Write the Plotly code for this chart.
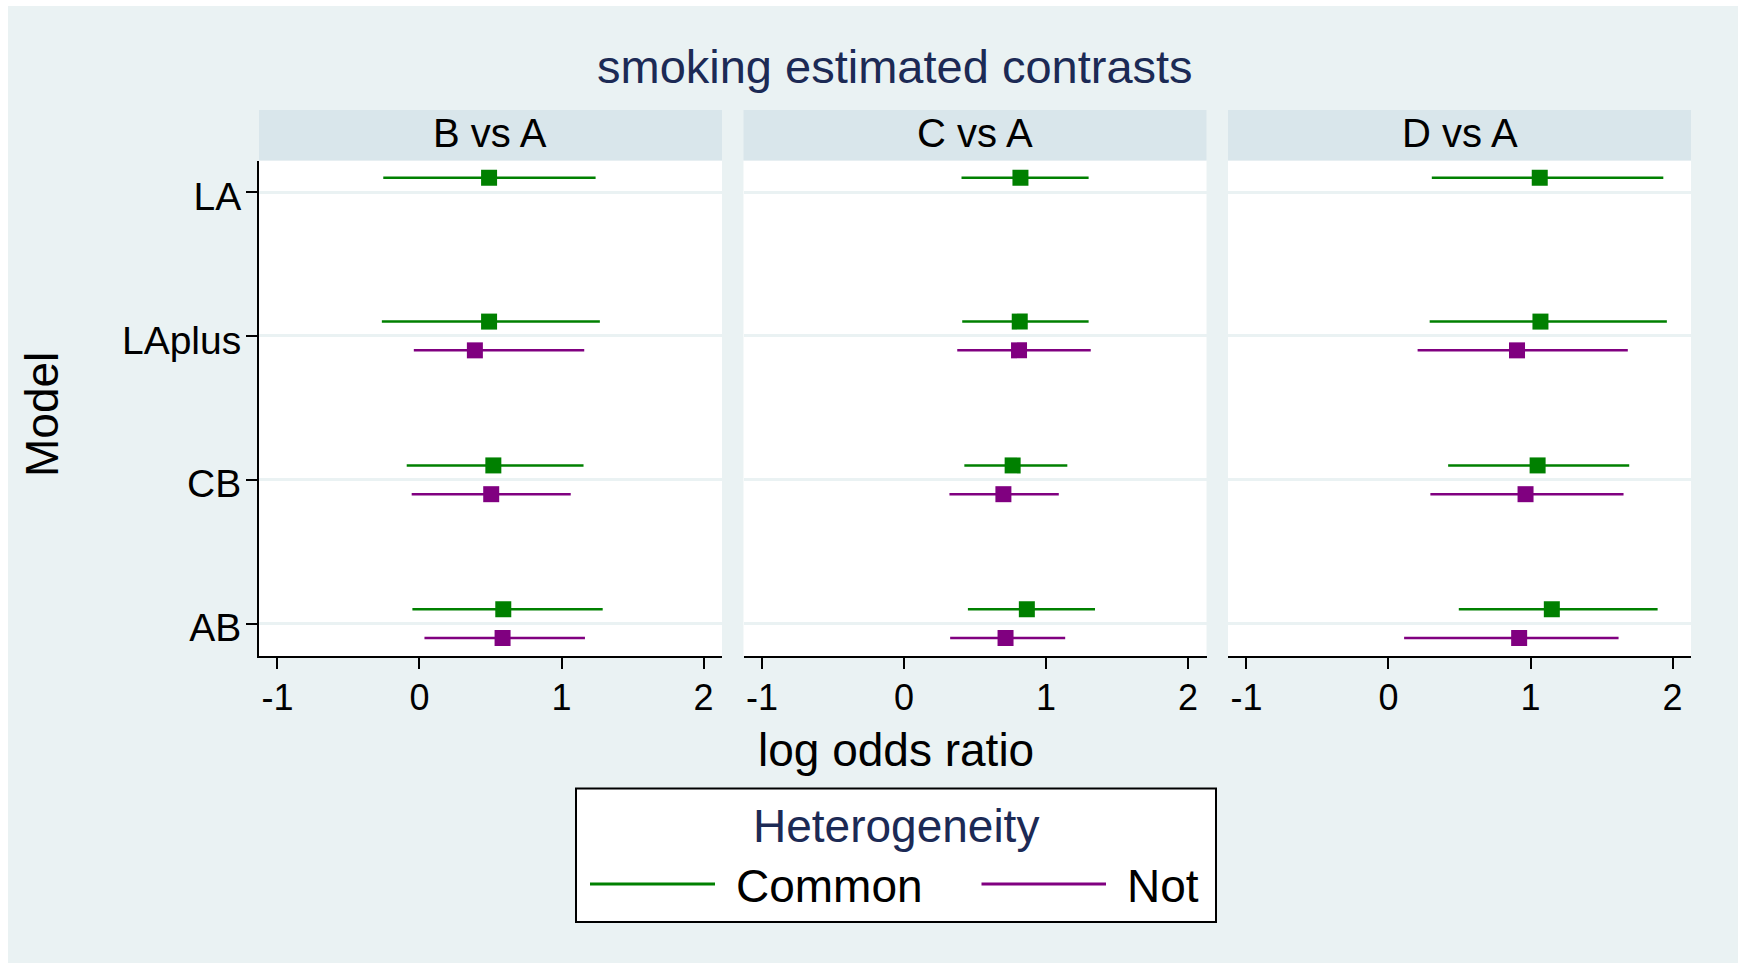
import plotly.graph_objects as go

# ---------------- data ----------------
models = ["LA", "LAplus", "CB", "AB"]
contrasts = ["B vs A", "C vs A", "D vs A"]
x_ticks = [-1, 0, 1, 2]

# Common heterogeneity: estimate, lower, upper (per contrast, per model)
common_est = {"B vs A": [0.49, 0.49, 0.52, 0.59],
              "C vs A": [0.82, 0.815, 0.765, 0.865],
              "D vs A": [1.065, 1.07, 1.05, 1.15]}
common_lo = {"B vs A": [-0.255, -0.265, -0.09, -0.05],
             "C vs A": [0.405, 0.41, 0.425, 0.45],
             "D vs A": [0.305, 0.29, 0.42, 0.495]}
common_hi = {"B vs A": [1.24, 1.27, 1.155, 1.29],
             "C vs A": [1.30, 1.30, 1.15, 1.345],
             "D vs A": [1.935, 1.96, 1.695, 1.895]}

# Not-common heterogeneity (no LA model)
not_est = {"B vs A": [None, 0.39, 0.505, 0.585],
           "C vs A": [None, 0.81, 0.70, 0.715],
           "D vs A": [None, 0.905, 0.965, 0.92]}
not_lo = {"B vs A": [None, -0.04, -0.055, 0.035],
          "C vs A": [None, 0.375, 0.32, 0.325],
          "D vs A": [None, 0.205, 0.295, 0.11]}
not_hi = {"B vs A": [None, 1.16, 1.065, 1.165],
          "C vs A": [None, 1.315, 1.09, 1.135],
          "D vs A": [None, 1.685, 1.655, 1.62]}

series_names = ["Common", "Not"]
series_colors = {"Common": "#008000", "Not": "#800080"}

# ---------------- layout geometry ----------------
W, H = 1741, 963
BG = "#EAF2F3"
STRIP = "#D9E6EB"
NAVY = "#1C2A55"
FONT = "Liberation Sans, Arial, Helvetica, sans-serif"

panel_px = [(259, 722), (743.5, 1206.5), (1228, 1691)]
plot_top, plot_bot = 160.5, 656
head_top = 110

def px_x(v):
    return v / W

def px_y(v):
    return 1 - v / H

ypos = {m: len(models) - i for i, m in enumerate(models)}  # LA=4 ... AB=1
offset = {"Common": 0.1, "Not": -0.1}

fig = go.Figure()

for k, c in enumerate(contrasts):
    xa = "x" if k == 0 else f"x{k+1}"
    ya = "y" if k == 0 else f"y{k+1}"
    for s in series_names:
        est = common_est[c] if s == "Common" else not_est[c]
        lo = common_lo[c] if s == "Common" else not_lo[c]
        hi = common_hi[c] if s == "Common" else not_hi[c]
        xs, ys, ep, em = [], [], [], []
        for i, m in enumerate(models):
            if est[i] is None:
                continue
            xs.append(est[i])
            ys.append(ypos[m] + offset[s])
            ep.append(hi[i] - est[i])
            em.append(est[i] - lo[i])
        fig.add_trace(go.Scatter(
            x=xs, y=ys, mode="markers", name=s, showlegend=False,
            xaxis=xa, yaxis=ya,
            marker=dict(symbol="square", size=16, color=series_colors[s],
                        line=dict(width=0)),
            error_x=dict(type="data", symmetric=False, array=ep, arrayminus=em,
                         width=0, thickness=2.5, color=series_colors[s]),
        ))

layout = dict(
    width=W, height=H, autosize=False,
    margin=dict(l=0, r=0, t=0, b=0),
    paper_bgcolor=BG, plot_bgcolor="white",
    font=dict(family=FONT, color="black"),
    showlegend=False,
)

for k in range(3):
    sx = "" if k == 0 else str(k + 1)
    x0, x1 = panel_px[k]
    layout["xaxis" + sx] = dict(
        domain=[px_x(x0), px_x(x1)], anchor="y" + sx,
        range=[-1.13, 2.13], tickvals=x_ticks,
        ticktext=[str(t) for t in x_ticks],
        ticks="outside", ticklen=11, tickwidth=1.5, tickcolor="black",
        showline=True, linecolor="black", linewidth=2,
        showgrid=False, zeroline=False,
        tickfont=dict(size=36, color="black", family=FONT),
        ticklabelstandoff=-2,
    )
    layout["yaxis" + sx] = dict(
        domain=[px_y(plot_bot), px_y(plot_top)], anchor="x" + sx,
        range=[0.775, 4.22], tickvals=[ypos[m] for m in models],
        ticktext=models,
        showgrid=True, gridcolor=BG, gridwidth=2.5, zeroline=False,
        showline=(k == 0), linecolor="black", linewidth=2,
        ticks="outside" if k == 0 else "", ticklen=11, tickwidth=1.5,
        tickcolor="black", showticklabels=(k == 0),
        tickfont=dict(size=39, color="black", family=FONT),
        ticklabelstandoff=-3, ticklabelshift=4,
    )

shapes = []
annotations = []

# white border strips (outer frame)
shapes.append(dict(type="rect", xref="paper", yref="paper", x0=0, x1=px_x(8),
                   y0=0, y1=1, fillcolor="white", line=dict(width=0)))
shapes.append(dict(type="rect", xref="paper", yref="paper", x0=0, x1=1,
                   y0=px_y(6), y1=1, fillcolor="white", line=dict(width=0)))
shapes.append(dict(type="rect", xref="paper", yref="paper", x0=px_x(1738), x1=1,
                   y0=0, y1=1, fillcolor="white", line=dict(width=0)))

# panel header strips
for k, c in enumerate(contrasts):
    x0, x1 = panel_px[k]
    shapes.append(dict(type="rect", xref="paper", yref="paper",
                       x0=px_x(x0), x1=px_x(x1), y0=px_y(plot_top), y1=px_y(head_top),
                       fillcolor=STRIP, line=dict(width=0)))
    annotations.append(dict(text=c, xref="paper", yref="paper",
                            x=px_x((x0 + x1) / 2), y=px_y(133.5),
                            xanchor="center", yanchor="middle", showarrow=False,
                            font=dict(size=40, color="black", family=FONT)))

# title
annotations.append(dict(text="smoking estimated contrasts", xref="paper", yref="paper",
                        x=px_x(894.5), y=px_y(67), xanchor="center", yanchor="middle",
                        showarrow=False, font=dict(size=47, color=NAVY, family=FONT)))
# x axis title
annotations.append(dict(text="log odds ratio", xref="paper", yref="paper",
                        x=px_x(895.5), y=px_y(750), xanchor="center", yanchor="middle",
                        showarrow=False, font=dict(size=46, color="black", family=FONT)))
# y axis title
annotations.append(dict(text="Model", xref="paper", yref="paper", textangle=-90,
                        x=px_x(42), y=px_y(415), xanchor="center", yanchor="middle",
                        showarrow=False, font=dict(size=46, color="black", family=FONT)))

# legend box
shapes.append(dict(type="rect", xref="paper", yref="paper",
                   x0=px_x(576), x1=px_x(1216), y0=px_y(922), y1=px_y(788.5),
                   fillcolor="white", line=dict(color="black", width=2)))
annotations.append(dict(text="Heterogeneity", xref="paper", yref="paper",
                        x=px_x(896), y=px_y(826), xanchor="center", yanchor="middle",
                        showarrow=False, font=dict(size=46, color=NAVY, family=FONT)))
leg_items = [("Common", 590, 715, 734), ("Not", 981.5, 1106, 1125)]
for name, lx0, lx1, tx in leg_items:
    shapes.append(dict(type="line", xref="paper", yref="paper",
                       x0=px_x(lx0), x1=px_x(lx1), y0=px_y(884), y1=px_y(884),
                       line=dict(color=series_colors[name], width=3)))
    annotations.append(dict(text=name, xref="paper", yref="paper",
                            x=px_x(tx), y=px_y(886), xanchor="left", yanchor="middle",
                            showarrow=False, font=dict(size=46, color="black", family=FONT)))

layout["shapes"] = shapes
layout["annotations"] = annotations
fig.update_layout(**layout)

fig.write_html("out.html")
